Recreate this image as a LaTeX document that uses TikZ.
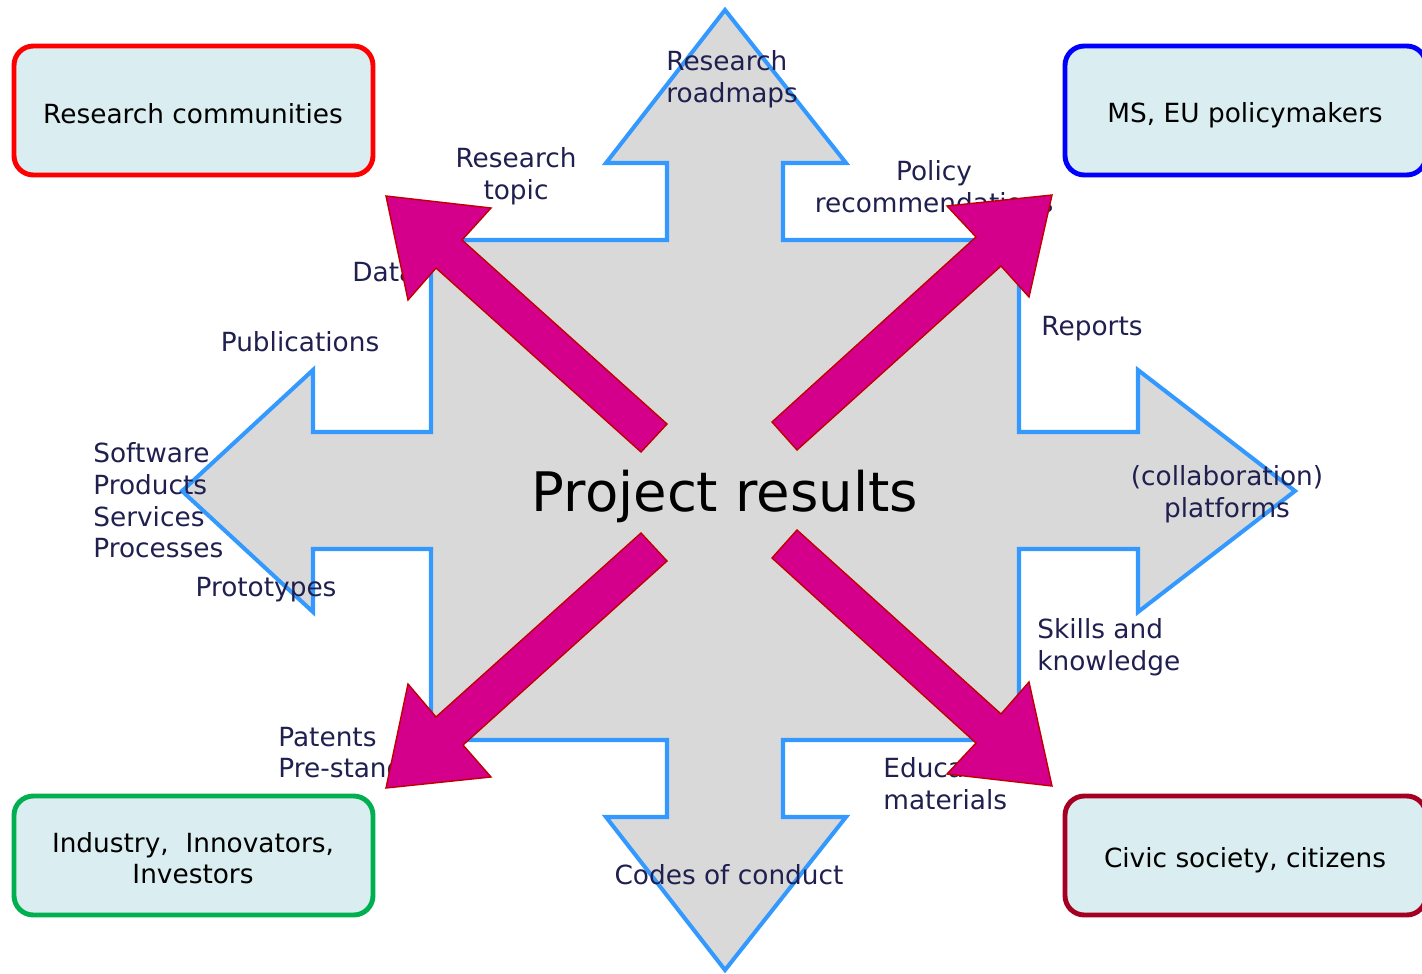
\documentclass[tikz,border=0pt]{standalone}
\usepackage{fontspec}
\setmainfont{DejaVu Sans}
\definecolor{shapegray}{RGB}{217,217,217}
\definecolor{shapeblue}{RGB}{51,153,255}
\definecolor{arrowmag}{RGB}{212,0,140}
\definecolor{arrowedge}{RGB}{192,0,0}
\definecolor{boxfill}{RGB}{218,237,240}
\definecolor{labelnavy}{RGB}{32,32,80}
\definecolor{rcred}{RGB}{255,0,0}
\definecolor{msblue}{RGB}{0,0,255}
\definecolor{indgreen}{RGB}{0,176,80}
\definecolor{civred}{RGB}{165,0,33}
\tikzset{
  lbl/.style={text=labelnavy, font=\fontsize{15}{18}\selectfont, inner sep=0pt, yshift=-1.4pt},
  grp/.style={rounded corners=11pt, fill=boxfill, line width=2.8pt},
  grptext/.style={text=black, font=\fontsize{15}{18}\selectfont, align=center, inner sep=0pt},
  magarrow/.style={fill=arrowmag, draw=arrowedge, line width=0.8pt, line join=miter},
}
\begin{document}
\begin{tikzpicture}[x=0.02cm, y=-0.02cm]
\useasboundingbox (0,0) rectangle (1422,973);
% central cross-shaped arrow
\draw[fill=shapegray, draw=shapeblue, line width=2.3pt, line join=miter]
  (1019,432) -- (1138,432) -- (1138,370) -- (1295,491) -- (1138,612) -- (1138,549)
  -- (1019,549) -- (1019,740) -- (783,740) -- (783,817) -- (846,817) -- (725,970)
  -- (606,817) -- (667,817) -- (667,740) -- (431,740) -- (431,549) -- (313,549)
  -- (313,612) -- (182,491) -- (313,370) -- (313,432) -- (431,432) -- (431,240)
  -- (667,240) -- (667,163) -- (606,163) -- (725,10) -- (846,163) -- (783,163)
  -- (783,240) -- (1019,240) -- cycle;
% labels
\node[lbl, align=left, anchor=west] (lroad) at (666,77) {Research\\roadmaps};
\node[lbl, align=center] (ltopic) at (516,174) {Research\\topic};
\node[lbl, align=center] (lpolicy) at (934,184) {Policy\\recommendations};
\node[lbl, anchor=west] (ldata) at (352,270) {Data};
\node[lbl] (lpub) at (300,339) {Publications};
\node[lbl, align=left, anchor=west] (lsoft) at (93,498) {Software\\Products\\Services\\Processes};
\node[lbl] (lproto) at (266,587) {Prototypes};
\node[lbl, align=left, anchor=west] (lpat) at (278,750) {Patents\\Pre-standards};
\node[lbl, align=left, anchor=west] (ledu) at (883,781) {Educational\\materials};
\node[lbl] (lrep) at (1092,326) {Reports};
\node[lbl, align=center] (lplat) at (1227,492) {(collaboration)\\platforms};
\node[lbl, align=left, anchor=west] (lskill) at (1037,645) {Skills and\\knowledge};
\node[lbl] (lcode) at (729,872) {Codes of conduct};
\node[text=black, font=\fontsize{31}{37}\selectfont, inner sep=0pt] (proj) at (725,496) {Project results};
% magenta arrows
\draw[magarrow] (641,452) -- (667,424) -- (462,240) -- (491,208) -- (386,196) -- (408,300) -- (436,268) -- cycle;
\draw[magarrow] (772,422) -- (976,237) -- (947,206) -- (1052,195) -- (1029,297) -- (1001,266) -- (797,450) -- cycle;
\draw[magarrow] (641,533) -- (667,561) -- (463,745) -- (491,777) -- (386,788) -- (408,684) -- (436,717) -- cycle;
\draw[magarrow] (772,558) -- (797,530) -- (1001,714) -- (1029,682) -- (1052,786) -- (947,774) -- (976,743) -- cycle;
% stakeholder boxes
\draw[grp, draw=rcred] (14,46) rectangle (373,175);
\node[grptext] (rc) at (193,114) {Research communities};
\draw[grp, draw=msblue] (1065,46) rectangle (1426,175);
\node[grptext] (ms) at (1245,115) {MS, EU policymakers};
\draw[grp, draw=indgreen] (14,796) rectangle (373,915);
\node[grptext] (ind) at (193,858) {Industry,~~Innovators,\\Investors};
\draw[grp, draw=civred] (1065,796) rectangle (1426,915);
\node[grptext] (civ) at (1245,860) {Civic society, citizens};
\end{tikzpicture}
\end{document}
